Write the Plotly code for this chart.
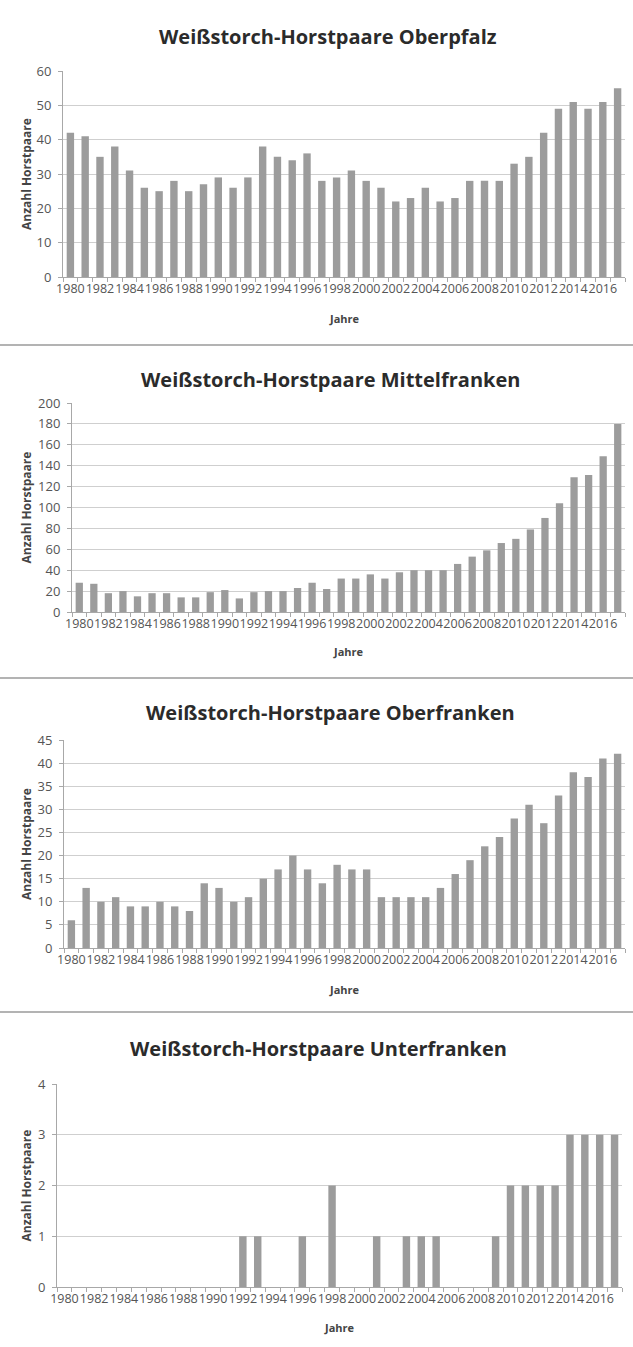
import plotly.graph_objects as go

W, H = 633, 1347

years = [1980, 1981, 1982, 1983, 1984, 1985, 1986, 1987, 1988, 1989,
         1990, 1991, 1992, 1993, 1994, 1995, 1996, 1997, 1998, 1999,
         2000, 2001, 2002, 2003, 2004, 2005, 2006, 2007, 2008, 2009,
         2010, 2011, 2012, 2013, 2014, 2015, 2016, 2017]
year_ticks = [1980, 1982, 1984, 1986, 1988, 1990, 1992, 1994, 1996, 1998,
              2000, 2002, 2004, 2006, 2008, 2010, 2012, 2014, 2016]

oberpfalz = [42, 41, 35, 38, 31, 26, 25, 28, 25, 27,
             29, 26, 29, 38, 35, 34, 36, 28, 29, 31,
             28, 26, 22, 23, 26, 22, 23, 28, 28, 28,
             33, 35, 42, 49, 51, 49, 51, 55]
mittelfranken = [28, 27, 18, 20, 15, 18, 18, 14, 14, 19,
                 21, 13, 19, 20, 20, 23, 28, 22, 32, 32,
                 36, 32, 38, 40, 40, 40, 46, 53, 59, 66,
                 70, 79, 90, 104, 129, 131, 149, 180]
oberfranken = [6, 13, 10, 11, 9, 9, 10, 9, 8, 14,
               13, 10, 11, 15, 17, 20, 17, 14, 18, 17,
               17, 11, 11, 11, 11, 13, 16, 19, 22, 24,
               28, 31, 27, 33, 38, 37, 41, 42]
unterfranken = [0, 0, 0, 0, 0, 0, 0, 0, 0, 0,
                0, 0, 1, 1, 0, 0, 1, 0, 2, 0,
                0, 1, 0, 1, 1, 1, 0, 0, 0, 1,
                2, 2, 2, 2, 3, 3, 3, 3]

titles = ["Weißstorch-Horstpaare Oberpfalz",
          "Weißstorch-Horstpaare Mittelfranken",
          "Weißstorch-Horstpaare Oberfranken",
          "Weißstorch-Horstpaare Unterfranken"]
series = [oberpfalz, mittelfranken, oberfranken, unterfranken]
y_max = [60, 200, 45, 4]
y_step = [10, 20, 5, 1]
y_title = "Anzahl Horstpaare"
x_title = "Jahre"

# panel geometry in pixels (left, right, top, bottom, title_y, title_x, xlabel_y)
panels = [
    (63, 625, 71, 277, 37, 328, 318),
    (72, 625, 403, 612, 379, 330, 651),
    (64, 625, 740, 948, 712, 330, 989),
    (57, 622, 1084, 1287, 1048, 318, 1327),
]

FONT = "Open Sans"
fig = go.Figure()
annotations = []
for i, (vals, p) in enumerate(zip(series, panels)):
    l, r, t, b, ty, tx, jy = p
    n = "" if i == 0 else str(i + 1)
    fig.add_trace(go.Bar(x=years, y=vals, xaxis="x" + n, yaxis="y" + n,
                         marker=dict(color="#9c9c9c", line=dict(width=0)),
                         showlegend=False))
    fig.layout["xaxis" + n] = dict(
        domain=[l / W, r / W], anchor="y" + n, range=[1979.5, 2017.5],
        tickmode="array", tickvals=year_ticks, ticktext=[str(v) for v in year_ticks],
        tickangle=0, ticks="", showgrid=False, zeroline=False,
        showline=True, linecolor="#a8a8a8", linewidth=1,
        tickfont=dict(family=FONT, size=12.5, color="#555555"),
        minor=dict(ticks="outside", tick0=1979.5, dtick=1, ticklen=4,
                   tickcolor="#a8a8a8", showgrid=False),
        automargin=False, fixedrange=True,
    )
    fig.layout["yaxis" + n] = dict(
        domain=[1 - b / H, 1 - t / H], anchor="x" + n, range=[0, y_max[i]],
        dtick=y_step[i], tick0=0, showgrid=True, gridcolor="#cfcfcf", gridwidth=1,
        zeroline=False, showline=True, linecolor="#a8a8a8", linewidth=1,
        ticks="outside", ticklen=4, tickcolor="#a8a8a8",
        tickfont=dict(family=FONT, size=13, color="#555555"),
        ticklabelstandoff=4, automargin=False, fixedrange=True,
    )
    annotations.append(dict(text=titles[i], x=tx / W, y=1 - ty / H, xref="paper", yref="paper",
                            showarrow=False, xanchor="center", yanchor="middle",
                            font=dict(family=FONT, size=20, color="#2b2b2b", weight="bold")))
    annotations.append(dict(text=y_title, x=26 / W, y=1 - (t + b) / 2 / H, xref="paper", yref="paper",
                            showarrow=False, textangle=-90, xanchor="center", yanchor="middle",
                            font=dict(family=FONT, size=12, color="#444444", weight="bold")))
    annotations.append(dict(text=x_title, x=(l + r) / 2 / W, y=1 - jy / H, xref="paper", yref="paper",
                            showarrow=False, xanchor="center", yanchor="middle",
                            font=dict(family=FONT, size=11, color="#444444", weight="bold")))

shapes = []
for sy in [345, 678, 1012]:
    shapes.append(dict(type="line", xref="paper", yref="paper", x0=0, x1=1,
                       y0=1 - sy / H, y1=1 - sy / H, line=dict(color="#9a9a9a", width=1.5)))

fig.update_layout(
    width=W, height=H, margin=dict(l=0, r=0, t=0, b=0),
    paper_bgcolor="white", plot_bgcolor="white",
    bargap=0.5, annotations=annotations, shapes=shapes,
    font=dict(family=FONT),
)

fig.write_html("out.html", config={"displayModeBar": False, "staticPlot": True},
               post_script="document.body.style.margin='0';document.body.style.overflow='hidden';")
